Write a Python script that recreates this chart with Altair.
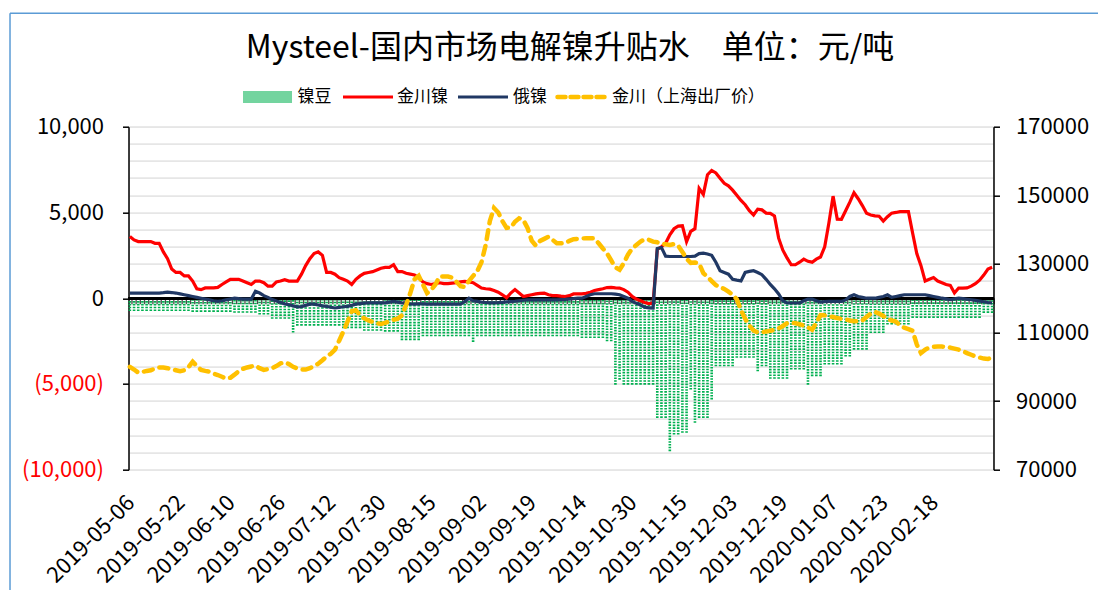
import altair as alt
import pandas as pd

FONT = "Noto Sans CJK SC"

HOLIDAYS = ["2019-06-07", "2019-09-13", "2019-10-01", "2019-10-02", "2019-10-03",
            "2019-10-04", "2019-10-07", "2020-01-01", "2020-01-24", "2020-01-27",
            "2020-01-28", "2020-01-29", "2020-01-30", "2020-01-31"]

TICK_LABELS = ["2019-05-06", "2019-05-22", "2019-06-10", "2019-06-26", "2019-07-12",
               "2019-07-30", "2019-08-15", "2019-09-02", "2019-09-19", "2019-10-14",
               "2019-10-30", "2019-11-15", "2019-12-03", "2019-12-19", "2020-01-07",
               "2020-01-23", "2020-02-18"]

LEFT_TICKS = list(range(-10000, 10001, 1000))
RIGHT_TICKS = list(range(70000, 170001, 20000))

# 镍豆 (bars, left axis)
nickel_bean = [
    -750, -750, -750, -750, -750, -750, -750, -750, -750, -750, -750, -750,
    -750, -750, -750, -800, -800, -800, -800, -800, -800, -800, -800, -800,
    -800, -850, -850, -850, -850, -850, -850, -950, -950, -950, -1200, -1200,
    -1200, -1200, -1200, -2000, -1600, -1600, -1600, -1600, -1600, -1600, -1600, -1600,
    -1600, -1600, -1600, -1750, -1750, -1750, -1750, -1750, -1900, -1900, -1900, -1900,
    -1900, -1950, -1950, -1950, -1950, -2450, -2450, -2450, -2450, -2450, -2220, -2220,
    -2220, -2220, -2220, -2220, -2220, -2220, -2220, -2220, -2220, -2220, -2550, -2220,
    -2220, -2220, -2220, -2220, -2220, -2220, -2220, -2220, -2220, -2220, -2220, -2220,
    -2220, -2220, -2220, -2220, -2220, -2220, -2220, -2220, -2220, -2220, -2220, -2220,
    -2320, -2320, -2320, -2320, -2320, -2320, -2510, -2510, -5040, -4750, -5040, -5040,
    -5040, -5040, -5040, -5040, -5040, -5040, -6980, -6980, -6980, -8920, -7950, -7950,
    -7850, -7850, -5330, -7270, -6980, -6980, -6980, -5900, -3970, -3970, -3970, -3970,
    -3970, -3480, -3480, -3480, -3480, -3480, -4260, -3970, -3970, -4700, -4700, -4700,
    -4700, -4700, -4160, -4160, -4160, -4160, -5040, -4550, -4550, -4550, -3870, -3870,
    -3870, -3870, -3870, -3400, -3400, -3000, -3000, -3000, -3000, -2030, -2030, -2030,
    -2030, -1540, -1540, -1540, -1540, -1540, -1540, -1150, -1150, -1150, -1150, -1150,
    -1150, -1150, -1150, -1150, -1150, -1150, -1150, -1150, -1150, -1150, -1150, -1150,
    -860, -860, -860,
]

# 金川镍 (red line, left axis)
jinchuan = [
    3600, 3400, 3300, 3300, 3300, 3300, 3200, 3200, 2700, 2300, 1700, 1500,
    1500, 1300, 1300, 1000, 550, 500, 600, 600, 600, 630, 800, 950,
    1100, 1100, 1100, 1000, 900, 800, 1000, 1000, 900, 700, 700, 950,
    1000, 1080, 1000, 1000, 1000, 1400, 1900, 2300, 2600, 2700, 2500, 1500,
    1500, 1400, 1200, 1100, 1000, 800, 1100, 1300, 1450, 1500, 1550, 1650,
    1750, 1800, 1800, 1950, 1550, 1550, 1450, 1400, 1350, 1200, 950, 850,
    800, 850, 900, 850, 850, 880, 900, 950, 980, 950, 900, 750,
    590, 550, 530, 450, 350, 200, 20, 300, 500, 300, 100, 150,
    200, 250, 280, 300, 200, 150, 150, 120, 100, 150, 250, 250,
    250, 280, 350, 450, 500, 550, 620, 630, 600, 590, 500, 350,
    100, -50, -150, -250, -320, -300, 2850, 3000, 3200, 3700, 4050, 4200,
    4220, 3300, 3900, 4050, 6400, 6050, 7200, 7450, 7300, 7000, 6700, 6550,
    6300, 6000, 5700, 5450, 5100, 4850, 5190, 5150, 4960, 4950, 4800, 3500,
    2800, 2350, 1950, 1950, 2100, 2280, 2150, 2100, 2280, 2400, 3000, 4380,
    5950, 4610, 4600, 5100, 5600, 6150, 5800, 5400, 4950, 4850, 4800, 4780,
    4500, 4750, 4960, 5000, 5050, 5050, 5050, 3800, 2600, 1900, 1000, 1100,
    1200, 1000, 900, 800, 750, 300, 590, 590, 600, 700, 850, 1050,
    1350, 1700, 1800,
]

# 俄镍 (navy line, left axis)
russian = [
    300, 300, 300, 300, 300, 300, 300, 300, 320, 350, 330, 300,
    250, 200, 150, 100, 50, 0, -50, -100, -150, -190, -150, -100,
    -50, 0, -30, -50, -50, -50, 400, 300, 150, 50, -80, -170,
    -250, -330, -380, -450, -500, -490, -420, -350, -350, -400, -450, -480,
    -530, -570, -540, -500, -480, -420, -350, -320, -290, -270, -270, -270,
    -270, -270, -230, -190, -230, -270, -300, -330, -350, -330, -330, -350,
    -350, -350, -350, -350, -350, -350, -350, -350, -200, 0, -150, -190,
    -230, -250, -270, -270, -260, -240, -220, -200, -180, -150, -120, -100,
    -100, -100, -100, -100, -100, -100, -100, -80, -70, -50, -30, 0,
    0, 100, 200, 260, 260, 260, 260, 260, 240, 200, 100, 0,
    -190, -300, -400, -520, -560, -570, 2900, 2950, 2450, 2430, 2430, 2430,
    2430, 2430, 2430, 2450, 2600, 2630, 2580, 2500, 2100, 1600, 1500, 1400,
    1100, 1050, 1010, 1500, 1560, 1600, 1500, 1370, 1100, 800, 550, 250,
    -150, -280, -280, -280, -280, -150, -50, -50, -150, -230, -200, -190,
    -190, -190, -190, -100, 100, 200, 100, 50, 0, 0, 0, 50,
    100, 200, 50, 100, 150, 200, 200, 200, 200, 200, 200, 150,
    100, 50, 0, -40, -90, -40, 0, -30, -60, -90, -130, -170,
    -210, -250, -280,
]

# 金川（上海出厂价） (yellow dashed line, right axis)
jinchuan_sh = [
    100000, 99200, 98300, 98500, 98800, 99000, 99500, 99800, 99800, 99600, 99300, 99000,
    98700, 99000, 99900, 101500, 100200, 99100, 98800, 98600, 98000, 97600, 97100, 96600,
    96800, 97700, 98700, 99400, 99800, 100100, 100300, 99600, 99100, 99300, 99600, 100200,
    101000, 101300, 100800, 100000, 99500, 99200, 99200, 99600, 100200, 100900, 101900, 103000,
    103800, 105000, 107600, 110300, 113200, 116200, 116500, 115000, 114100, 113500, 113100, 112700,
    112500, 112800, 113300, 113700, 114000, 115000, 118000, 121500, 125500, 126500, 124000, 121500,
    122400, 124000, 126300, 126300, 126300, 126000, 124800, 123500, 123300, 125000, 126500, 127900,
    130500, 135500, 142500, 146300, 145000, 142500, 140500, 140600, 142300, 143300, 142800, 140500,
    136800, 135300, 136700, 137300, 137900, 137000, 136000, 136000, 136100, 136700, 137200, 137300,
    137400, 137500, 137500, 137400, 136000, 134500, 133100, 131000, 129000, 128300, 130200, 132700,
    134500, 135500, 136500, 137200, 137000, 136500, 136300, 136000, 135700, 135500, 135800, 135300,
    133500, 131500, 130300, 130400, 130100, 127300, 126200, 125000, 123800, 123200, 122700, 121900,
    121000, 119700, 116500, 114000, 112000, 110600, 110000, 110100, 110300, 110500, 110800, 111200,
    111900, 112700, 112800, 112700, 112400, 112000, 111500, 110800, 112800, 115100, 115000, 114800,
    114500, 114200, 114000, 113800, 113500, 113300, 113200, 113500, 114500, 115500, 116000, 115500,
    114800, 114000, 113500, 113200, 112000, 111400, 111000, 110500, 106500, 104000, 105000, 105600,
    105800, 105900, 105900, 105800, 105600, 105300, 105000, 104600, 104000, 103500, 103000, 102700,
    102400, 102300, 102700,
]

dates = [d.strftime("%Y-%m-%d") for d in pd.bdate_range("2019-05-06", "2020-03-31")
         if d.strftime("%Y-%m-%d") not in HOLIDAYS][:len(jinchuan)]

df = pd.DataFrame({
    "date": dates,
    "bean": nickel_bean,
    "jc": jinchuan,
    "ru": russian,
    "sh": jinchuan_sh,
})

W, H = 865, 343
STEP = W / len(dates)

x_axis = alt.Axis(values=TICK_LABELS, labelAngle=-45, labelFontSize=22,
                  labelFont=FONT, labelColor="#000000", ticks=False,
                  domain=False, grid=False, labelPadding=22, labelOffset=-6,
                  title=None, labelOverlap=False)
x_scale = alt.Scale(paddingInner=0.35, paddingOuter=0)


def xenc():
    return alt.X("date:O", sort=None, scale=x_scale, axis=x_axis)


left_scale = alt.Scale(domain=[-10000, 10000], nice=False, zero=False)
left_axis = alt.Axis(
    values=LEFT_TICKS,
    labelExpr="datum.value % 5000 != 0 ? '' : (datum.value < 0 ? '(' + format(-datum.value, ',') + ')' : format(datum.value, ','))",
    labelColor={"condition": {"test": "datum.value < 0", "value": "#FF0000"}, "value": "#000000"},
    tickOpacity={"condition": {"test": "datum.value % 5000 != 0", "value": 0}, "value": 1},
    labelOverlap=False, labelBound=False, labelFlush=False,
    grid=True, gridColor="#E6E6E6", gridWidth=1.8,
    domainColor="#000000", domainWidth=1.5, tickColor="#000000", tickSize=6, tickWidth=1.5,
    labelFontSize=22, labelFont=FONT, labelPadding=19, title=None,
)


def yleft(field):
    return alt.Y(field, scale=left_scale, axis=left_axis)


base = alt.Chart(df)

bars = base.mark_rule(color="#00B050", strokeWidth=2.6, strokeDash=[1.6, 1.2]).encode(
    x=xenc(),
    y=yleft("bean:Q"),
    y2=alt.datum(0),
)

zero_line = base.mark_rule(color="#000000", strokeWidth=2.5).encode(
    y=alt.YDatum(0, scale=left_scale, axis=left_axis),
)

zero_ticks = base.mark_tick(orient="vertical", color="#000000", size=6, thickness=1.3,
                            xOffset=STEP / 2, yOffset=3).encode(
    x=xenc(),
    y=alt.YDatum(0, scale=left_scale, axis=left_axis),
)

red = base.mark_line(color="#FF0000", strokeWidth=3.2).encode(x=xenc(), y=yleft("jc:Q"))
navy = base.mark_line(color="#203864", strokeWidth=3.2).encode(x=xenc(), y=yleft("ru:Q"))

left_layer = alt.layer(bars, zero_line, zero_ticks, red, navy)

gold = base.mark_line(color="#FFC000", strokeWidth=4.5, strokeDash=[9, 7],
                      strokeCap="round").encode(
    x=xenc(),
    y=alt.Y("sh:Q",
            scale=alt.Scale(domain=[70000, 170000], nice=False, zero=False),
            axis=alt.Axis(orient="right", values=RIGHT_TICKS,
                          format="d", grid=False, domainColor="#000000", domainWidth=1.5,
                          tickColor="#000000", tickSize=6, tickWidth=1.5,
                          labelFontSize=22, labelFont=FONT, labelPadding=16,
                          labelOverlap=False, labelBound=False, labelFlush=False,
                          labelColor="#000000", title=None)),
)

one = pd.DataFrame({"k": [0]})
deco = alt.Chart(one)

LEG_Y = -29.7
legend_layers = [
    deco.mark_rect(color="#00B050", opacity=0.55).encode(
        x=alt.value(114.5), x2=alt.value(163.5), y=alt.value(LEG_Y - 6), y2=alt.value(LEG_Y + 6)),
    deco.mark_text(text="镍豆", align="left", baseline="middle", font=FONT, fontSize=17,
                   color="#000000").encode(x=alt.value(169), y=alt.value(LEG_Y)),
    deco.mark_rule(color="#FF0000", strokeWidth=3.2).encode(
        x=alt.value(214.5), x2=alt.value(264.5), y=alt.value(LEG_Y)),
    deco.mark_text(text="金川镍", align="left", baseline="middle", font=FONT, fontSize=17,
                   color="#000000").encode(x=alt.value(268.5), y=alt.value(LEG_Y)),
    deco.mark_rule(color="#203864", strokeWidth=3.2).encode(
        x=alt.value(329.5), x2=alt.value(379.5), y=alt.value(LEG_Y)),
    deco.mark_text(text="俄镍", align="left", baseline="middle", font=FONT, fontSize=17,
                   color="#000000").encode(x=alt.value(384.5), y=alt.value(LEG_Y)),
    deco.mark_rule(color="#FFC000", strokeWidth=4.5, strokeDash=[8, 5], strokeCap="round").encode(
        x=alt.value(429), x2=alt.value(479.5), y=alt.value(LEG_Y)),
    deco.mark_text(text="金川（上海出厂价）", align="left", baseline="middle", font=FONT,
                   fontSize=17, color="#000000").encode(x=alt.value(483.5), y=alt.value(LEG_Y)),
    deco.mark_text(text="Mysteel-国内市场电解镍升贴水\u3000单位：元/吨", align="center",
                   baseline="middle", font=FONT, fontSize=32, color="#000000").encode(
        x=alt.value(441.5), y=alt.value(-79)),
    deco.mark_rule(color="#5B9BD5", strokeWidth=1.5).encode(
        x=alt.value(-118.5), x2=alt.value(1000), y=alt.value(-113.4)),
    deco.mark_rule(color="#5B9BD5", strokeWidth=1.5).encode(
        x=alt.value(-118.5), y=alt.value(-113.4), y2=alt.value(600)),
]

chart = alt.layer(left_layer, gold, *legend_layers).resolve_scale(y="independent").properties(
    width=W, height=H,
    padding={"left": 120.5, "top": 118.7, "right": 104, "bottom": 120},
    autosize=alt.AutoSizeParams(type="none"),
).configure_view(stroke=None).configure(font=FONT)

chart.save("out.html", embed_options={"renderer": "svg", "actions": False})
